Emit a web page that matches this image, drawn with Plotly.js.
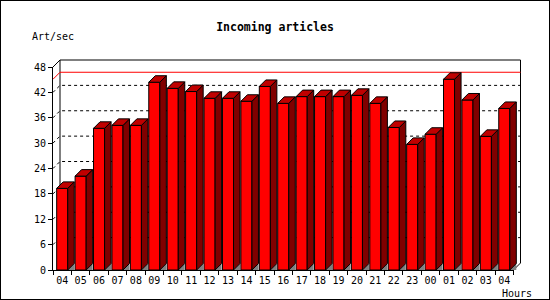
<!DOCTYPE html>
<html>
<head>
<meta charset="utf-8">
<script src="https://cdn.plot.ly/plotly-3.0.1.min.js"></script>
<style>
  html, body { margin: 0; padding: 0; background: #fff; }
  #wrap { position: relative; width: 550px; height: 300px; }
  #frame { position: absolute; left: 0; top: 0; width: 550px; height: 300px;
           box-sizing: border-box; border: 1px solid #000; pointer-events: none; }
</style>
</head>
<body>
<div id="wrap">
  <div id="chart" style="width:550px;height:300px;"></div>
  <div id="frame"></div>
</div>
<script>
// ---- data ----
const hours = ['04','05','06','07','08','09','10','11','12','13','14','15','16',
               '17','18','19','20','21','22','23','00','01','02','03','04'];
const values = [19.3, 22.2, 33.5, 34.2, 34.2, 44.4, 42.95, 42.2, 40.6, 40.6, 39.9, 43.4, 39.4,
                41.0, 41.0, 41.0, 41.3, 39.4, 33.7, 29.7, 32.1, 45.1, 40.2, 31.6, 38.2];
const yTicks = [0, 6, 12, 18, 24, 30, 36, 42, 48];
const gridLevels = [6, 12, 18, 24, 30, 36, 42];

// ---- geometry (pixels) ----
const W = 550, H = 300;
const ML = 45, MR = 25, MT = 55, MB = 28;          // plot area 45..525 x 55..272
const PW = W - ML - MR, PH = H - MT - MB;
const FRONT_L = 53, FRONT_R = 513.5, FRONT_B = 270, FRONT_T = 67;
const N = hours.length;
const YMAX = 48;
const SX = (FRONT_R - FRONT_L) / N;                // px per x unit
const SY = (FRONT_B - FRONT_T) / YMAX;             // px per y unit
const DX = 7 / SX, DY = 7 / SY;                    // frame depth
const BDX = 6.5 / SX, BDY = 6.5 / SY;              // bar depth
const HW = 0.3;                                    // half bar width

const xMin = -0.5 - (FRONT_L - ML) / SX;
const xMax = -0.5 + (ML + PW - FRONT_L) / SX;
const yMin = -(MT + PH - FRONT_B) / SY;
const yMax = (FRONT_B - MT) / SY;

const idx = hours.map((_, i) => i);

// side faces, top faces, shadows
const sx = [], sy = [], tx = [], ty = [], shx = [], shy = [];
values.forEach((v, i) => {
  const r = i + HW, l = i - HW;
  sx.push(r, r + BDX, r + BDX, r, r, null);
  sy.push(0, BDY, v + BDY, v, 0, null);
  tx.push(l, r, r + BDX, l + BDX, l, null);
  ty.push(v, v, v + BDY, v + BDY, v, null);
  shx.push(r, r + BDX, r + BDX, r, null);
  shy.push(0, BDY, 0, 0, null);
});

const traces = [
  { type: 'bar', x: idx, y: values, width: 2 * HW,
    marker: { color: '#ff0000', line: { color: '#000', width: 1 } },
    hoverinfo: 'skip', showlegend: false },
  { type: 'scatter', mode: 'lines', x: shx, y: shy, fill: 'toself',
    fillcolor: '#808080', line: { width: 0, color: 'rgba(0,0,0,0)' },
    hoverinfo: 'skip', showlegend: false },
  { type: 'scatter', mode: 'lines', x: sx, y: sy, fill: 'toself',
    fillcolor: '#800000', line: { width: 1, color: '#000' },
    hoverinfo: 'skip', showlegend: false },
  { type: 'scatter', mode: 'lines', x: tx, y: ty, fill: 'toself',
    fillcolor: '#c00000', line: { width: 1, color: '#000' },
    hoverinfo: 'skip', showlegend: false },
  { type: 'scatter', mode: 'lines', x: [], y: [], xaxis: 'x2', yaxis: 'y2',
    hoverinfo: 'skip', showlegend: false }
];

const L0 = -0.5, R0 = N - 0.5;
const shapes = [];
gridLevels.forEach(g => {
  shapes.push({ type: 'path', layer: 'below', xref: 'x', yref: 'y',
    path: `M${L0},${g} L${L0 + DX},${g + DY} L${R0 + DX},${g + DY}`,
    line: { color: '#000', width: 1, dash: '3px,3px' } });
});
// back frame
shapes.push({ type: 'path', layer: 'below', xref: 'x', yref: 'y',
  path: `M${L0 + DX},${DY} L${L0 + DX},${YMAX + DY} L${R0 + DX},${YMAX + DY} L${R0 + DX},${DY}`,
  line: { color: '#000', width: 1 } });
shapes.push({ type: 'path', layer: 'below', xref: 'x', yref: 'y',
  path: `M${L0},${YMAX} L${L0 + DX},${YMAX + DY}`, line: { color: '#000', width: 1 } });
shapes.push({ type: 'path', layer: 'below', xref: 'x', yref: 'y',
  path: `M${R0},0 L${R0 + DX},${DY}`, line: { color: '#000', width: 1 } });
// max line
const vmax = Math.max(...values);
shapes.push({ type: 'path', layer: 'below', xref: 'x', yref: 'y',
  path: `M${L0},${vmax} L${L0 + DX},${vmax + DY} L${R0 + DX},${vmax + DY}`,
  line: { color: '#ff0000', width: 1 } });

const monoFont = { family: 'DejaVu Sans Mono', size: 10, color: '#000' };
const boundaries = [];
for (let i = 0; i <= N; i++) boundaries.push(i - 0.5);

const layout = {
  width: W, height: H,
  margin: { l: ML, r: MR, t: MT, b: MB, pad: 0 },
  paper_bgcolor: '#fff', plot_bgcolor: 'rgba(0,0,0,0)',
  showlegend: false, bargap: 0,
  title: { text: 'Incoming articles', xref: 'container', yref: 'container',
           x: 0.5, y: 1 - 27 / H, xanchor: 'center', yanchor: 'middle',
           font: { family: 'DejaVu Sans Mono', size: 11.5, weight: 700, color: '#000' } },
  xaxis: { range: [xMin, xMax], visible: false, fixedrange: true },
  yaxis: { range: [yMin, yMax], visible: false, fixedrange: true },
  xaxis2: { anchor: 'y2',
    domain: [(FRONT_L - ML) / PW, (FRONT_R - ML) / PW],
    range: [L0, R0], showgrid: false, zeroline: false,
    showline: true, linecolor: '#000', linewidth: 1,
    tickmode: 'array', tickvals: idx, ticktext: hours,
    ticks: 'outside', ticklen: 1, tickcolor: 'rgba(0,0,0,0)',
    tickfont: monoFont,
    minor: { tickmode: 'array', tickvals: boundaries, ticks: 'outside',
             ticklen: 4, tickwidth: 1, tickcolor: '#000', showgrid: false },
    fixedrange: true },
  yaxis2: { anchor: 'x2',
    domain: [(MT + PH - FRONT_B) / PH, (MT + PH - FRONT_T) / PH],
    range: [0, YMAX], showgrid: false, zeroline: false,
    showline: true, linecolor: '#000', linewidth: 1,
    tickmode: 'array', tickvals: yTicks,
    ticks: 'outside', ticklen: 4, tickwidth: 1, tickcolor: '#000',
    tickfont: monoFont, fixedrange: true },
  shapes: shapes,
  annotations: [
    { text: 'Art/sec', xref: 'paper', yref: 'paper',
      x: (30 - ML) / PW, y: (MT + PH - 36.5) / PH, xanchor: 'left', yanchor: 'middle',
      showarrow: false, font: monoFont },
    { text: 'Hours', xref: 'paper', yref: 'paper',
      x: (534 - ML) / PW, y: (MT + PH - 293) / PH, xanchor: 'right', yanchor: 'middle',
      showarrow: false, font: monoFont }
  ]
};

Plotly.newPlot('chart', traces, layout, { staticPlot: true, displayModeBar: false });
</script>
</body>
</html>
